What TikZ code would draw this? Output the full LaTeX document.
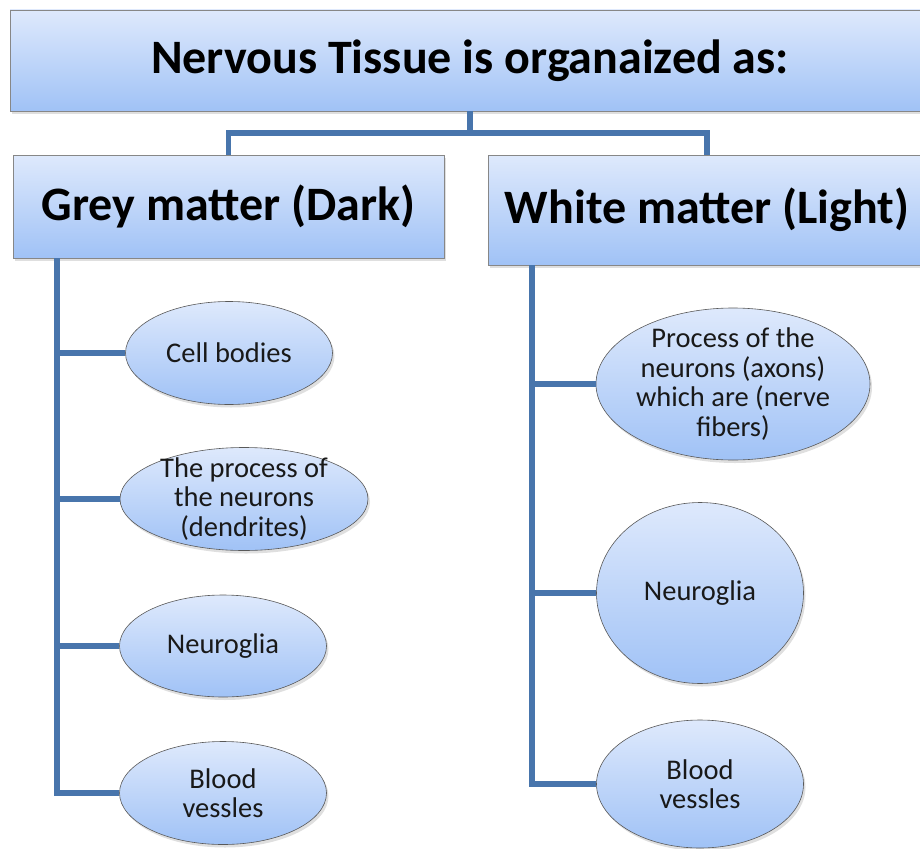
\documentclass[tikz,border=0pt]{standalone}
\usepackage{fontspec}
\setmainfont{Carlito}
\usetikzlibrary{shapes.geometric,shadows}
\definecolor{linkblue}{RGB}{72,117,172}
\definecolor{filltop}{RGB}{222,233,252}
\definecolor{fillbot}{RGB}{160,194,246}
\definecolor{edgegray}{RGB}{135,135,135}
\begin{document}
\begin{tikzpicture}[x=1pt,y=-1pt,
  shade/.style={top color=filltop, bottom color=fillbot,
    drop shadow={shadow xshift=2pt, shadow yshift=-3pt, opacity=0.25}},
  box/.style={rectangle, shade, draw=edgegray, line width=0.8pt, inner sep=0pt,
    font=\bfseries\fontsize{48}{52}\selectfont},
  ell/.style={ellipse, shade, draw=black!65, line width=0.6pt, inner sep=0pt},
  lbl/.style={align=center, inner sep=0pt, text=black!90,
    font=\fontsize{28.5}{29.5}\selectfont},
  conn/.style={draw=linkblue, line width=5.5pt}]
\useasboundingbox (0,0) rectangle (920,848);

% header boxes
\node[box, minimum width=920pt, minimum height=101pt] (title) at (470,60.5)
  {Nervous Tissue is organaized as:};
\node[box, minimum width=431pt, minimum height=103pt] (grey) at (228.5,206.5)
  {Grey matter (Dark)};
\node[box, minimum width=438pt, minimum height=110pt] (white) at (707,210)
  {White matter (Light)};

% grey matter items
\node[ell, minimum width=207pt, minimum height=103pt,
  label={[lbl, name=g1t]center:{Cell bodies}}] (g1) at (229,353) {};
\node[ell, minimum width=248pt, minimum height=103pt,
  label={[lbl, name=g2t]center:{The process of\\the neurons\\(dendrites)}}] (g2) at (244,499) {};
\node[ell, minimum width=207pt, minimum height=102pt,
  label={[lbl, name=g3t]center:{Neuroglia}}] (g3) at (223,646) {};
\node[ell, minimum width=207pt, minimum height=103pt,
  label={[lbl, name=g4t]center:{Blood\\vessles}}] (g4) at (223,793) {};

% white matter items
\node[ell, minimum width=274pt, minimum height=152pt,
  label={[lbl, name=w1t]center:{Process of the\\neurons (axons)\\which are (nerve\\fibers)}}] (w1) at (733,384) {};
\node[ell, minimum width=207pt, minimum height=181pt,
  label={[lbl, name=w2t]center:{Neuroglia}}] (w2) at (700,593) {};
\node[ell, minimum width=207pt, minimum height=128pt,
  label={[lbl, name=w3t]center:{Blood\\vessles}}] (w3) at (700,784) {};

% top split
\coordinate (hub) at (470,133);
\draw[conn] (title.south) -- (hub);
\draw[conn] (hub) -| (grey.north);
\draw[conn] (hub) -| (white.north);

% grey matter trunk
\coordinate (gl) at (57,258);
\draw[conn] (gl) |- (g4.west);
\foreach \n in {g1,g2,g3} \draw[conn] (gl |- \n.west) -- (\n.west);

% white matter trunk
\coordinate (wl) at (532,265);
\draw[conn] (wl) |- (w3.west);
\foreach \n in {w1,w2} \draw[conn] (wl |- \n.west) -- (\n.west);
\end{tikzpicture}
\end{document}
